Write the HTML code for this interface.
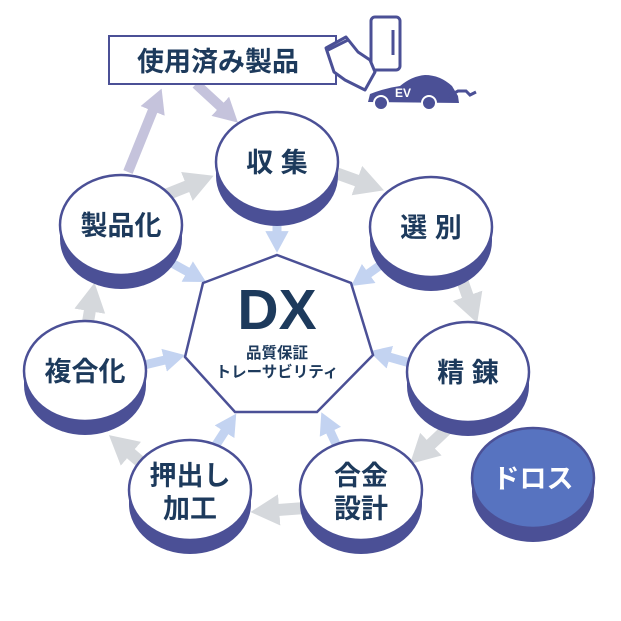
<!DOCTYPE html>
<html><head><meta charset="utf-8"><style>
html,body{margin:0;padding:0;background:#fff;}
svg{display:block;}
text{font-family:"Liberation Sans","Noto Sans CJK JP",sans-serif;font-weight:bold;fill:#1d3a5c;}
</style></head><body>
<svg width="621" height="621" viewBox="0 0 621 621" xmlns="http://www.w3.org/2000/svg">
<defs>
<marker id="hg" markerWidth="2.4" markerHeight="2.6" refX="0.1" refY="1.3" orient="auto" markerUnits="strokeWidth"><path d="M0,0 L2.4,1.3 L0,2.6 Z" fill="#d5d8dc"/></marker>
<marker id="hl" markerWidth="2.4" markerHeight="2.6" refX="0.1" refY="1.3" orient="auto" markerUnits="strokeWidth"><path d="M0,0 L2.4,1.3 L0,2.6 Z" fill="#c5c3dc"/></marker>
<marker id="hb" markerWidth="2.4" markerHeight="2.6" refX="0.1" refY="1.3" orient="auto" markerUnits="strokeWidth"><path d="M0,0 L2.4,1.3 L0,2.6 Z" fill="#c3d3f1"/></marker>
</defs>
<g stroke="#d5d8dc" stroke-width="12" marker-end="url(#hg)" fill="none">
<line x1="333" y1="172" x2="358" y2="181"/>
<line x1="462" y1="280" x2="468" y2="297"/>
<line x1="448" y1="428" x2="430" y2="445"/>
<line x1="305" y1="508" x2="278" y2="510"/>
<line x1="150" y1="470" x2="130" y2="453"/>
<line x1="88" y1="322" x2="90" y2="310"/>
<line x1="163" y1="196" x2="188" y2="186"/>
</g>
<g stroke="#c5c3dc" stroke-width="10" marker-end="url(#hl)" fill="none">
<line x1="128" y1="172" x2="153" y2="110"/>
<line x1="196" y1="84" x2="221" y2="107"/>
</g>
<g stroke="#c3d3f1" stroke-width="9" marker-end="url(#hb)" fill="none">
<line x1="277" y1="222" x2="277" y2="232"/>
<line x1="382" y1="264" x2="368" y2="274"/>
<line x1="410" y1="363" x2="389" y2="357"/>
<line x1="336" y1="444" x2="330" y2="431"/>
<line x1="214" y1="448" x2="225" y2="431"/>
<line x1="140" y1="366" x2="165" y2="360"/>
<line x1="170" y1="262" x2="188" y2="272"/>
</g>
<polygon points="277,255 351,283 373,355 317,412 235,412 185,357 203,283" fill="#fff" stroke="#4b5096" stroke-width="2.5"/>
<text x="277" y="329" font-size="57" text-anchor="middle">DX</text>
<text x="277" y="358" font-size="15.5" text-anchor="middle">品質保証</text>
<text x="277" y="377" font-size="15.5" text-anchor="middle">トレーサビリティ</text>
<rect x="109" y="36" width="227" height="48" fill="#fff" stroke="#4b5096" stroke-width="2"/>
<text x="218" y="71" font-size="27" text-anchor="middle">使用済み製品</text>
<g stroke="#4b5096" stroke-width="3" fill="#fff" stroke-linejoin="round">
<rect x="371" y="17" width="29" height="53" rx="4"/>
<line x1="393" y1="30" x2="393" y2="55"/>
<path d="M326,48 L346,37 L358,52 L370,60 L375,72 L365,90 L345,80 L334,72 Z"/>
<line x1="328" y1="50" x2="348" y2="40"/>
</g>
<path d="M368,102 L370,94 Q385,88 400,86 Q412,76 425,75 Q440,75 452,86 L458,96 L459,103 Z" fill="#4b5096"/>
<circle cx="381" cy="103" r="7" fill="#4b5096" stroke="#fff" stroke-width="2"/>
<circle cx="429" cy="103" r="7" fill="#4b5096" stroke="#fff" stroke-width="2"/>
<text x="395" y="97" font-size="12" style="fill:#fff">EV</text>
<path d="M447,97 L458,91 L466,91 L470,95 L476,92" stroke="#4b5096" stroke-width="3" fill="none"/>
<g>
<g><path d="M216,162 L216,176 A61,50 0 0 0 338,176 L338,162 Z" fill="#4b5096"/><ellipse cx="277" cy="162" rx="61" ry="50" fill="#fff" stroke="#4b5096" stroke-width="2.5"/></g>
<g><path d="M370,227 L370,241 A61,50 0 0 0 492,241 L492,227 Z" fill="#4b5096"/><ellipse cx="431" cy="227" rx="61" ry="50" fill="#fff" stroke="#4b5096" stroke-width="2.5"/></g>
<g><path d="M407,372 L407,386 A61,50 0 0 0 529,386 L529,372 Z" fill="#4b5096"/><ellipse cx="468" cy="372" rx="61" ry="50" fill="#fff" stroke="#4b5096" stroke-width="2.5"/></g>
<g><path d="M472,478 L472,492 A61,50 0 0 0 594,492 L594,478 Z" fill="#4b5096"/><ellipse cx="533" cy="478" rx="61" ry="50" fill="#5773c0" stroke="#4b5096" stroke-width="2.5"/></g>
<g><path d="M300,490 L300,504 A61,50 0 0 0 422,504 L422,490 Z" fill="#4b5096"/><ellipse cx="361" cy="490" rx="61" ry="50" fill="#fff" stroke="#4b5096" stroke-width="2.5"/></g>
<g><path d="M129,490 L129,504 A61,50 0 0 0 251,504 L251,490 Z" fill="#4b5096"/><ellipse cx="190" cy="490" rx="61" ry="50" fill="#fff" stroke="#4b5096" stroke-width="2.5"/></g>
<g><path d="M24,371 L24,385 A61,50 0 0 0 146,385 L146,371 Z" fill="#4b5096"/><ellipse cx="85" cy="371" rx="61" ry="50" fill="#fff" stroke="#4b5096" stroke-width="2.5"/></g>
<g><path d="M60,225 L60,239 A61,50 0 0 0 182,239 L182,225 Z" fill="#4b5096"/><ellipse cx="121" cy="225" rx="61" ry="50" fill="#fff" stroke="#4b5096" stroke-width="2.5"/></g>
</g>
<g font-size="27" text-anchor="middle">
<text x="277" y="172">収 集</text>
<text x="431" y="237">選 別</text>
<text x="468" y="382">精 錬</text>
<text x="533" y="488" style="fill:#fff">ドロス</text>
<text x="361" y="485">合金</text>
<text x="361" y="518">設計</text>
<text x="190" y="485">押出し</text>
<text x="190" y="518">加工</text>
<text x="85" y="381">複合化</text>
<text x="121" y="235">製品化</text>
</g>
</svg>
</body></html>
